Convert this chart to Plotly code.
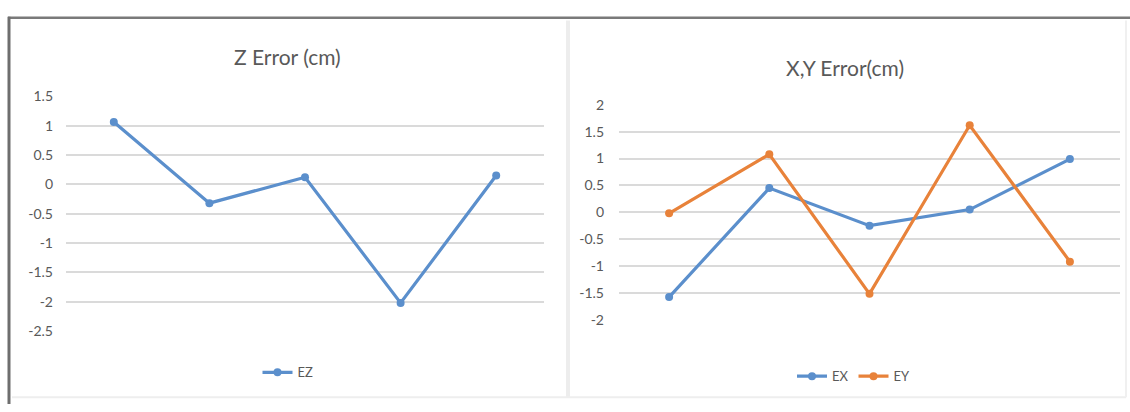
import plotly.graph_objects as go

categories = ["1", "2", "3", "4", "5"]
ez = [1.06, -0.32, 0.12, -2.02, 0.15]
ex = [-1.58, 0.45, -0.25, 0.05, 0.99]
ey = [-0.02, 1.08, -1.52, 1.62, -0.92]

z_ticks = [1.5, 1, 0.5, 0, -0.5, -1, -1.5, -2, -2.5]
z_ticktext = ["1.5", "1", "0.5", "0", "-0.5", "-1", "-1.5", "-2", "-2.5"]
xy_ticks = [2, 1.5, 1, 0.5, 0, -0.5, -1, -1.5, -2]
xy_ticktext = ["2", "1.5", "1", "0.5", "0", "-0.5", "-1", "-1.5", "-2"]

BLUE = "#5B8FCC"
ORANGE = "#E8823A"
TXT = "#595959"
GRID = "#DADADA"
FONT = "Lato"

W, H = 1130, 412

fig = go.Figure()
fig.add_trace(go.Scatter(x=categories, y=ez, name="EZ", mode="lines+markers",
                         line=dict(color=BLUE, width=3.2), marker=dict(size=8, color=BLUE),
                         xaxis="x", yaxis="y", legend="legend"))
fig.add_trace(go.Scatter(x=categories, y=ex, name="EX", mode="lines+markers",
                         line=dict(color=BLUE, width=3.2), marker=dict(size=8, color=BLUE),
                         xaxis="x2", yaxis="y2", legend="legend2"))
fig.add_trace(go.Scatter(x=categories, y=ey, name="EY", mode="lines+markers",
                         line=dict(color=ORANGE, width=3.2), marker=dict(size=8, color=ORANGE),
                         xaxis="x2", yaxis="y2", legend="legend2"))

def px(x):
    return x / W

def py(y):
    return 1 - y / H

axis_common = dict(showgrid=False, showline=False, zeroline=False, showticklabels=False,
                   type="category", range=[-0.5, 4.5], fixedrange=True)
yaxis_common = dict(showgrid=True, gridcolor=GRID, gridwidth=1.5, zeroline=False, showline=False,
                    tickfont=dict(family=FONT, size=14, color=TXT), ticks="", fixedrange=True)

fig.update_layout(
    width=W, height=H,
    margin=dict(l=0, r=0, t=0, b=0),
    paper_bgcolor="white", plot_bgcolor="white",
    showlegend=True,
    xaxis=dict(domain=[px(66), px(544)], anchor="y", **axis_common),
    yaxis=dict(domain=[py(336), py(91)], range=[-2.5, 1.5], anchor="x",
               tickvals=z_ticks, ticktext=z_ticktext, ticklabelstandoff=12, **yaxis_common),
    xaxis2=dict(domain=[px(619), px(1120)], anchor="y2", **axis_common),
    yaxis2=dict(domain=[py(324), py(100)], range=[-2, 2], anchor="x2",
                tickvals=xy_ticks, ticktext=xy_ticktext, ticklabelstandoff=14, **yaxis_common),
    legend=dict(x=px(288), y=py(379), xanchor="center", yanchor="middle", orientation="h",
                font=dict(family=FONT, size=13, color=TXT), bgcolor="rgba(0,0,0,0)",
                itemwidth=30),
    legend2=dict(x=px(854), y=py(383), xanchor="center", yanchor="middle", orientation="h",
                 font=dict(family=FONT, size=13, color=TXT), bgcolor="rgba(0,0,0,0)",
                 itemwidth=30),
    annotations=[
        dict(text="Z Error (cm)", x=px(287), y=py(50), xref="paper", yref="paper",
             showarrow=False, font=dict(family=FONT, size=21, color=TXT),
             xanchor="center", yanchor="middle"),
        dict(text="X,Y Error(cm)", x=px(845), y=py(61), xref="paper", yref="paper",
             showarrow=False, font=dict(family=FONT, size=21, color=TXT),
             xanchor="center", yanchor="middle"),
    ],
    shapes=[
        dict(type="line", xref="paper", yref="paper", x0=px(8), x1=1, y0=py(9), y1=py(9),
             line=dict(color="#7A7A7A", width=2.5)),
        dict(type="line", xref="paper", yref="paper", x0=px(9), x1=px(9), y0=py(8), y1=0,
             line=dict(color="#6E6E6E", width=3)),
        dict(type="line", xref="paper", yref="paper", x0=px(568), x1=px(568), y0=py(12), y1=py(405),
             line=dict(color="#EDEDED", width=4)),
        dict(type="line", xref="paper", yref="paper", x0=px(12), x1=px(1126), y0=py(405), y1=py(405),
             line=dict(color="#EEEEEE", width=2)),
        dict(type="line", xref="paper", yref="paper", x0=px(1126), x1=px(1126), y0=py(12), y1=py(405),
             line=dict(color="#F0F0F0", width=2)),
    ],
)

fig.write_html("out.html")
